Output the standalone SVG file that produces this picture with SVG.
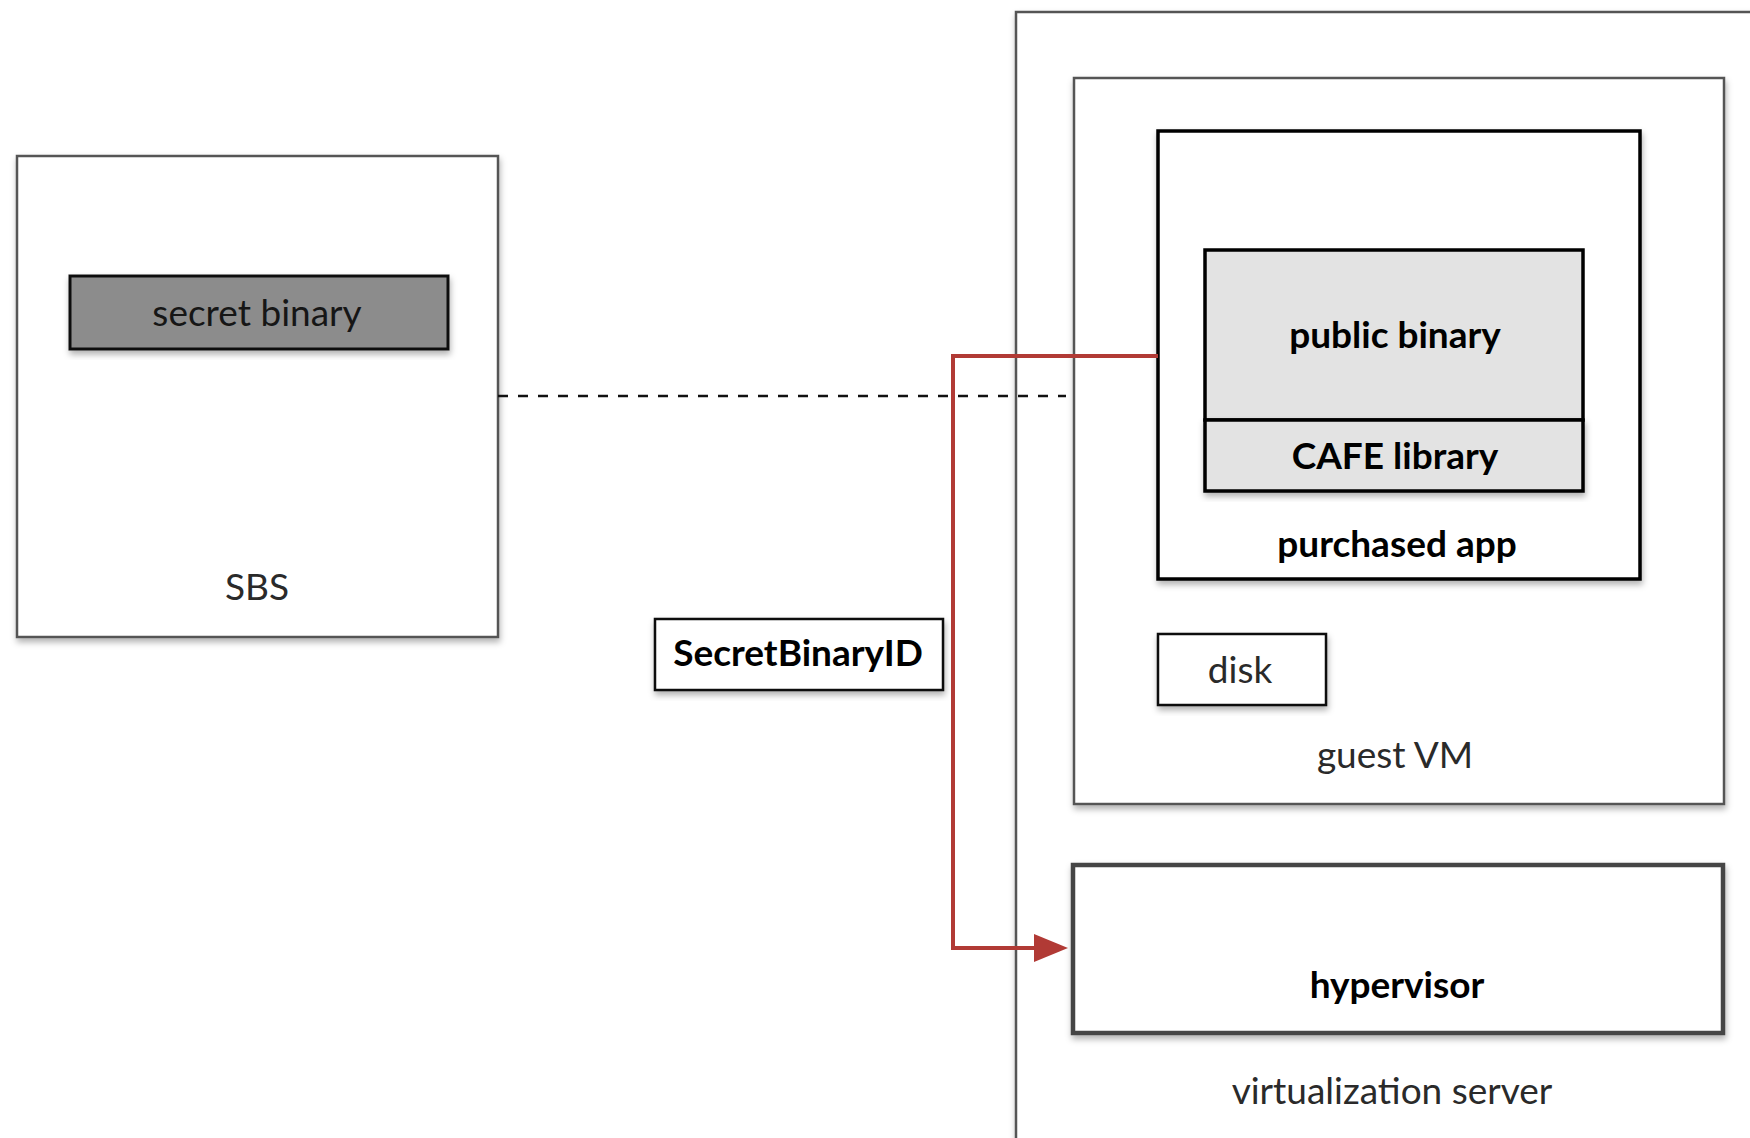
<svg xmlns="http://www.w3.org/2000/svg" width="1750" height="1138" viewBox="0 0 1750 1138">
<defs>
<style>
.box{fill:#fff;stroke:#555;stroke-width:2.5}
.dark{fill:#fff;stroke:#000;stroke-width:3.5}
.t{font-family:Lato,"Open Sans","Liberation Sans",sans-serif;font-size:37px;text-anchor:middle;fill:#2a2a2a}
.b{font-weight:bold;fill:#000}
</style>
<filter id="sh" x="-5%" y="-5%" width="115%" height="120%">
<feDropShadow dx="1" dy="4" stdDeviation="3" flood-color="#000" flood-opacity="0.3"/>
</filter>
</defs>
<rect width="1750" height="1138" fill="#fff"/>

<g id="virtualization-server">
<rect x="1016" y="12" width="760" height="1160" class="box" filter="url(#sh)"/>
<text x="1392" y="1104" class="t">virtualization server</text>
</g>

<g id="sbs">
<rect x="17" y="156" width="481" height="481" class="box" filter="url(#sh)"/>
<text x="257" y="600" class="t">SBS</text>
</g>

<g id="secret-binary">
<rect x="70" y="276" width="378" height="73" fill="#8c8c8c" stroke="#111" stroke-width="3" filter="url(#sh)"/>
<text x="257" y="326" class="t" fill="#161616" style="fill:#161616">secret binary</text>
</g>

<g id="guest-vm">
<rect x="1074" y="78" width="650" height="726" class="box" filter="url(#sh)"/>
<text x="1395" y="768" class="t">guest VM</text>
</g>

<g id="purchased-app">
<rect x="1158" y="131" width="482" height="448" class="dark" filter="url(#sh)"/>
<text x="1397" y="557" class="t b">purchased app</text>
</g>

<g id="public-binary">
<rect x="1205" y="250" width="378" height="170" fill="#e3e3e3" stroke="#000" stroke-width="3.5"/>
<text x="1395" y="348" class="t b">public binary</text>
</g>

<g id="cafe-library">
<rect x="1205" y="420" width="378" height="71" fill="#e3e3e3" stroke="#000" stroke-width="3.5" filter="url(#sh)"/>
<text x="1395" y="469" class="t b">CAFE library</text>
</g>

<g id="disk">
<rect x="1158" y="634" width="168" height="71" fill="#fff" stroke="#111" stroke-width="2.5" filter="url(#sh)"/>
<text x="1240" y="683" class="t">disk</text>
</g>

<g id="hypervisor">
<rect x="1073" y="865" width="650" height="168" fill="#fff" stroke="#444" stroke-width="4.5" filter="url(#sh)"/>
<text x="1397" y="998" class="t b">hypervisor</text>
</g>

<g id="secret-binary-id">
<rect x="655" y="619" width="288" height="71" fill="#fff" stroke="#111" stroke-width="2.5" filter="url(#sh)"/>
<text x="798" y="666" class="t b">SecretBinaryID</text>
</g>

<g id="connectors">
<line x1="498" y1="396" x2="1066" y2="396" stroke="#111" stroke-width="2.5" stroke-dasharray="10,10"/>
<path d="M1158,356 H953 V948 H1036" fill="none" stroke="#b13a35" stroke-width="4"/>
<path d="M1034,934 L1068,948 L1034,962 Z" fill="#b13a35"/>
</g>
</svg>
